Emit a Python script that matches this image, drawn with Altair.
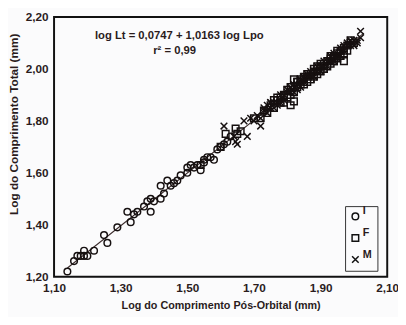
import altair as alt
import pandas as pd

# ---- data ----
I_x = [1.14, 1.16, 1.17, 1.18, 1.19, 1.19, 1.20, 1.22, 1.25, 1.26, 1.29, 1.32, 1.33, 1.34,
       1.35, 1.37, 1.38, 1.39, 1.39, 1.42, 1.42, 1.43, 1.44, 1.45, 1.47, 1.48, 1.50, 1.50,
       1.51, 1.53, 1.54, 1.55, 1.55, 1.57, 1.58, 1.60, 1.61, 1.62, 1.40, 1.46, 1.52, 1.56,
       1.59, 1.63]
I_y = [1.22, 1.26, 1.28, 1.28, 1.30, 1.28, 1.28, 1.30, 1.36, 1.33, 1.39, 1.45, 1.41, 1.44,
       1.45, 1.47, 1.49, 1.50, 1.45, 1.50, 1.55, 1.52, 1.57, 1.55, 1.57, 1.59, 1.60, 1.62,
       1.63, 1.63, 1.61, 1.65, 1.64, 1.66, 1.65, 1.70, 1.71, 1.72, 1.49, 1.56, 1.62, 1.66,
       1.69, 1.74]

F_x = [1.54, 1.60, 1.615, 1.645, 1.65, 1.66, 1.70, 1.72, 1.73, 1.75, 1.76, 1.77, 1.78, 1.79,
       1.80, 1.80, 1.81, 1.81, 1.82, 1.82, 1.83, 1.83, 1.84, 1.85, 1.85, 1.86, 1.86, 1.87,
       1.87, 1.88, 1.88, 1.89, 1.89, 1.90, 1.90, 1.91, 1.91, 1.92, 1.92, 1.93, 1.93, 1.94,
       1.94, 1.95, 1.95, 1.96, 1.96, 1.97, 1.97, 1.98, 1.99, 2.00, 1.78, 1.84, 1.88,
       1.74, 1.77, 1.79, 1.81, 1.83, 1.85, 1.87, 1.89, 1.91, 1.93, 1.95, 1.97, 1.99,
       1.76, 1.82, 1.86, 1.90, 1.94, 1.98]
F_y = [1.63, 1.70, 1.75, 1.77, 1.75, 1.76, 1.81, 1.81, 1.84, 1.86, 1.85, 1.88, 1.89, 1.90,
       1.89, 1.92, 1.86, 1.93, 1.875, 1.96, 1.93, 1.95, 1.94, 1.96, 1.94, 1.97, 1.95, 1.98,
       1.96, 1.99, 1.97, 2.00, 1.98, 2.01, 1.99, 2.02, 2.00, 2.03, 2.01, 2.04, 2.02, 2.03,
       2.05, 2.06, 2.04, 2.07, 2.05, 2.03, 2.08, 2.09, 2.10, 2.10, 1.87, 1.96, 2.00,
       1.83, 1.89, 1.87, 1.90, 1.95, 1.97, 1.96, 2.01, 2.00, 2.05, 2.07, 2.06, 2.11,
       1.88, 1.91, 1.98, 2.02, 2.03, 2.07]

M_x = [1.61, 1.64, 1.645, 1.65, 1.68, 1.72, 1.67, 1.69, 1.70, 1.71, 1.73, 1.74, 1.74, 1.75,
       1.76, 1.77, 1.78, 1.79, 1.80, 1.81, 1.82, 1.83, 1.84, 1.85, 1.86, 1.87, 1.88, 1.89,
       1.90, 1.91, 1.92, 1.93, 1.94, 1.95, 1.96, 1.97, 1.98, 1.99, 2.00, 2.01, 2.02, 2.02,
       1.76, 1.79, 1.82, 1.85, 1.88, 1.91, 1.94, 1.97, 2.00, 1.75, 1.78, 1.81, 1.84, 1.87,
       1.90, 1.93, 1.96, 1.99,
       1.72, 1.75, 1.77, 1.80, 1.82, 1.83, 1.86, 1.88, 1.89, 1.92, 1.94, 1.95, 1.98, 2.01,
       1.73, 1.78, 1.84, 1.90, 1.96]
M_y = [1.78, 1.74, 1.72, 1.71, 1.74, 1.78, 1.80, 1.81, 1.80, 1.82, 1.84, 1.86, 1.83, 1.85,
       1.87, 1.87, 1.88, 1.90, 1.91, 1.91, 1.93, 1.94, 1.95, 1.95, 1.97, 1.97, 1.99, 1.99,
       2.01, 2.01, 2.03, 2.03, 2.05, 2.05, 2.07, 2.07, 2.09, 2.09, 2.11, 2.11, 2.145, 2.12,
       1.85, 1.88, 1.91, 1.97, 1.97, 2.03, 2.03, 2.09, 2.09, 1.87, 1.90, 1.93, 1.93, 1.99,
       1.99, 2.05, 2.05, 2.11,
       1.81, 1.87, 1.86, 1.92, 1.94, 1.92, 1.98, 1.97, 2.01, 2.01, 2.06, 2.04, 2.10, 2.10,
       1.85, 1.87, 1.96, 1.99, 2.08]

groups = ["I", "F", "M"]
fit_x = [1.14, 2.03]
intercept = 0.0747
slope = 1.0163
x_ticks = [1.1, 1.3, 1.5, 1.7, 1.9, 2.1]
y_ticks = [1.2, 1.4, 1.6, 1.8, 2.0, 2.2]
eq_text = "log Lt = 0,0747 + 1,0163 log Lpo"
r2_text = "r² = 0,99"

pts = pd.concat([
    pd.DataFrame({"x": I_x, "y": I_y, "g": "I"}),
    pd.DataFrame({"x": F_x, "y": F_y, "g": "F"}),
    pd.DataFrame({"x": M_x, "y": M_y, "g": "M"}),
], ignore_index=True)

fit = pd.DataFrame({"x": fit_x})

FONT = "Liberation Sans"
INK = "#2a1c1c"
label_expr = "replace(format(datum.value, '.2f'), '.', ',')"

xscale = alt.Scale(domain=[1.1, 2.1], nice=False, zero=False)
yscale = alt.Scale(domain=[1.2, 2.2], nice=False, zero=False)

xaxis = alt.Axis(values=x_ticks, labelExpr=label_expr, title="Log do Comprimento Pós-Orbital (mm)",
                 grid=False, domain=False, ticks=False, labelPadding=6, titlePadding=7,
                 labelFlush=False, titleFontSize=11)
yaxis = alt.Axis(values=y_ticks, labelExpr=label_expr, title="Log do Comprimento Total (mm)",
                 grid=False, domain=False, ticks=False, labelPadding=6, labelFlush=False,
                 titleX=-41, titleY=109, titleAngle=-90, titleBaseline="middle",
                 titleFontSize=12)

line = alt.Chart(fit).transform_calculate(
    y=f"{intercept} + {slope} * datum.x"
).mark_line(color="#3a2a2a", strokeWidth=1.1).encode(
    x=alt.X("x:Q", scale=xscale, axis=xaxis),
    y=alt.Y("y:Q", scale=yscale, axis=yaxis),
)

xpath = "M-1,-1L1,1M-1,1L1,-1"
points = alt.Chart(pts).mark_point(filled=False, strokeWidth=1.5, size=46, opacity=1).encode(
    x=alt.X("x:Q", scale=xscale),
    y=alt.Y("y:Q", scale=yscale),
    shape=alt.Shape("g:N", scale=alt.Scale(domain=groups, range=["circle", "square", xpath]),
                    legend=alt.Legend(title=None, orient="none", legendX=297, legendY=193,
                                      strokeColor="#333", padding=5, labelFont=FONT,
                                      labelFontSize=11, labelFontWeight="bold", labelColor=INK,
                                      symbolSize=45, symbolStrokeWidth=1.5,
                                      symbolStrokeColor="#111", symbolFillColor="transparent",
                                      rowPadding=4, labelOffset=2, labelBaseline="bottom")),
    color=alt.value("#161010"),
)

eq = alt.Chart(pd.DataFrame({"x": [1.476], "y": [2.126], "t": [eq_text]})).mark_text(
    font=FONT, fontSize=11.5, fontWeight="bold", color=INK
).encode(x=alt.X("x:Q", scale=xscale), y=alt.Y("y:Q", scale=yscale), text="t:N")

r2 = alt.Chart(pd.DataFrame({"x": [1.462], "y": [2.068], "t": [r2_text]})).mark_text(
    font=FONT, fontSize=11.5, fontWeight="bold", color=INK
).encode(x=alt.X("x:Q", scale=xscale), y=alt.Y("y:Q", scale=yscale), text="t:N")

chart = alt.layer(line, points, eq, r2).properties(
    width=340, height=265,
    autosize=alt.AutoSizeParams(type="none"),
    padding={"left": 47, "top": 6, "right": 11, "bottom": 38},
    background="#fbfbfc",
).configure_view(
    stroke="#111", strokeWidth=2
).configure_axis(
    labelFont=FONT, labelFontSize=12, labelFontWeight="bold", labelColor=INK,
    titleFont=FONT, titleFontSize=11, titleFontWeight="bold", titleColor=INK,
)

chart.save("out.html", embed_options={"renderer": "svg", "actions": False})
